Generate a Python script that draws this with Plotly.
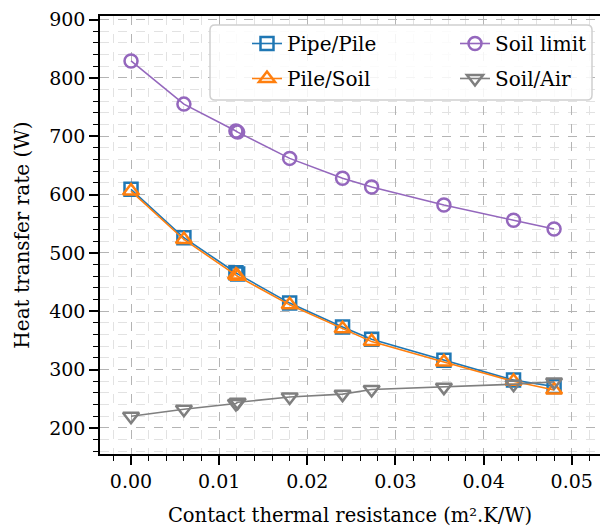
import plotly.graph_objects as go

# ---- data ----
resistance = [0.0, 0.006, 0.0119, 0.0121, 0.018, 0.024, 0.0273, 0.0355, 0.0434, 0.048]
pipe_pile  = [609, 526, 466, 464, 414, 373, 352, 316, 282, 271]
pile_soil  = [606, 523, 462, 460, 411, 370, 348, 313, 280, 265]
soil_limit = [829, 755, 709, 707, 662, 628, 613, 582, 556, 541]
soil_air   = [220, 232, 242, 244, 253, 258, 266, 270, 275, 279]

x_ticks = [0.0, 0.01, 0.02, 0.03, 0.04, 0.05]
y_ticks = [200, 300, 400, 500, 600, 700, 800, 900]

FONT = "DejaVu Serif"
W, H = 600, 529
ML, MR, MT, MB = 100, 0, 16, 75
PW, PH = W - ML - MR, H - MT - MB

series = [
    ("Pipe/Pile", pipe_pile, "#1f77b4", "square-open", 13, "legend"),
    ("Pile/Soil", pile_soil, "#ff7f0e", "triangle-up-open", 14, "legend"),
    ("Soil limit", soil_limit, "#9467bd", "circle-open", 13, "legend2"),
    ("Soil/Air", soil_air, "#7f7f7f", "triangle-down-open", 14, "legend2"),
]

fig = go.Figure()
for name, vals, col, sym, sz, lg in series:
    fig.add_trace(go.Scatter(
        x=resistance, y=vals, name=name, mode="lines+markers",
        line=dict(color=col, width=1.6),
        marker=dict(symbol=sym, size=sz, color=col, line=dict(color=col, width=2.5)),
        legend=lg, legendgroup=name,
    ))

def px2paper(xp, yp):
    return (xp - ML) / PW, (H - MB - yp) / PH

# legend frame (rounded)
x0, y1 = px2paper(210, 25)
x1, y0 = px2paper(592, 100)
rx, ry = 5 / PW, 5 / PH
path = (f"M {x0+rx},{y0} L {x1-rx},{y0} Q {x1},{y0} {x1},{y0+ry} "
        f"L {x1},{y1-ry} Q {x1},{y1} {x1-rx},{y1} L {x0+rx},{y1} "
        f"Q {x0},{y1} {x0},{y1-ry} L {x0},{y0+ry} Q {x0},{y0} {x0+rx},{y0} Z")
fig.add_shape(type="path", path=path, xref="paper", yref="paper",
              fillcolor="rgba(255,255,255,0.85)", line=dict(color="#d0d0d0", width=1.5),
              layer="above")

lx1, ly = px2paper(247, 24)
lx2, _ = px2paper(455, 24)
legfont = dict(family=FONT, size=20, color="black")
fig.update_layout(
    width=W, height=H,
    margin=dict(l=ML, r=MR, t=MT, b=MB),
    paper_bgcolor="white", plot_bgcolor="white",
    font=dict(family=FONT, size=19, color="black"),
    legend=dict(x=lx1, y=ly, xanchor="left", yanchor="top", bgcolor="rgba(0,0,0,0)",
                font=legfont, borderwidth=0, tracegroupgap=6),
    legend2=dict(x=lx2, y=ly, xanchor="left", yanchor="top", bgcolor="rgba(0,0,0,0)",
                 font=legfont, borderwidth=0, tracegroupgap=6),
    xaxis=dict(
        range=[-0.00352, 0.05321], tickvals=x_ticks, tickformat=".2f",
        ticks="outside", ticklen=9, tickwidth=1.5, tickcolor="black",
        showline=True, linecolor="black", linewidth=1.5, mirror=True,
        showgrid=True, gridcolor="#b4b4b4", griddash="dash", gridwidth=1.3,
        zeroline=False,
        title=dict(text="Contact thermal resistance (m².K/W)", font=dict(family=FONT, size=19.5), standoff=18),
        tickfont=dict(family=FONT, size=19),
        minor=dict(dtick=0.002, tick0=0, ticks="outside", ticklen=5, tickwidth=1.2,
                   tickcolor="black", showgrid=True, gridcolor="#e2e2e2",
                   griddash="dash", gridwidth=1),
    ),
    yaxis=dict(
        range=[155.4, 906], tickvals=y_ticks,
        ticks="outside", ticklen=9, tickwidth=1.5, tickcolor="black",
        showline=True, linecolor="black", linewidth=1.5, mirror=False,
        showgrid=True, gridcolor="#b4b4b4", griddash="dash", gridwidth=1.3,
        zeroline=False,
        title=dict(text="Heat transfer rate (W)", font=dict(family=FONT, size=20), standoff=14),
        tickfont=dict(family=FONT, size=19),
        minor=dict(dtick=20, tick0=0, ticks="outside", ticklen=5, tickwidth=1.2,
                   tickcolor="black", showgrid=True, gridcolor="#e2e2e2",
                   griddash="dash", gridwidth=1),
    ),
)

fig.write_html("out.html")
